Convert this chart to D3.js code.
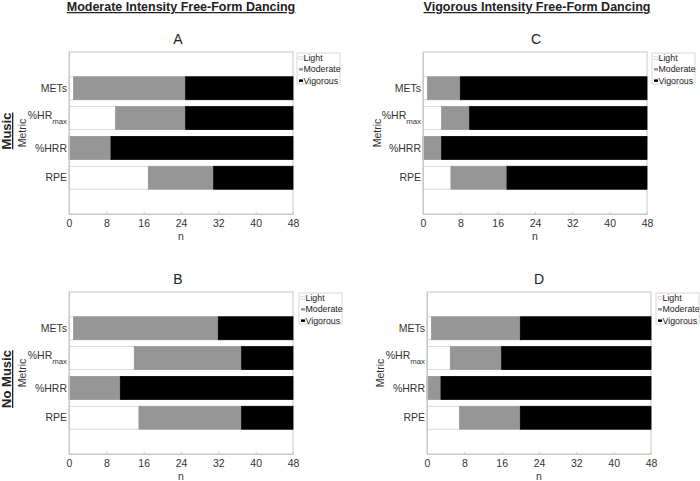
<!DOCTYPE html>
<html lang="en"><head>
<meta charset="utf-8"/>
<title>Free-Form Dancing intensity</title>
<script src="https://d3js.org/d3.v7.min.js"></script>
<style>
  body { margin: 0; padding: 0; background: #fff; width: 700px; height: 481px; overflow: hidden; }
  svg { font-family: 'Liberation Sans', Arial, sans-serif; }
</style>
</head>
<body>
<div id="chart"></div>
<script>
// categories
const metrics = ["METs", "%HRmax", "%HRR", "RPE"];
const levels = ["Light", "Moderate", "Vigorous"];
const xTicks = [0, 8, 16, 24, 32, 40, 48];

// counts (n) per metric: A = moderate dance + music
const lightA = [1, 10, 0, 17];
const moderateA = [24, 15, 9, 14];
const vigorousA = [23, 23, 39, 17];
// B = moderate dance, no music
const lightB = [1, 14, 0, 15];
const moderateB = [31, 23, 11, 22];
const vigorousB = [16, 11, 37, 11];
// C = vigorous dance + music
const lightC = [1, 4, 0, 6];
const moderateC = [7, 6, 4, 12];
const vigorousC = [40, 38, 44, 30];
// D = vigorous dance, no music
const lightD = [1, 5, 0, 7];
const moderateD = [19, 11, 3, 13];
const vigorousD = [28, 32, 45, 28];

const colors = { Light: "#ffffff", Moderate: "#969696", Vigorous: "#000000" };
const textCol = "#333";
const axisCol = "#c8c8c8";

const svg = d3.select("#chart").append("svg")
    .attr("width", 700).attr("height", 481);

// panel layout
const panels = [
    { id: "A", l: lightA, m: moderateA, v: vigorousA, x0: 69, x1: 293, y0: 52, y1: 214, tx: 178, metricX: 24, legX: 297 },
    { id: "C", l: lightC, m: moderateC, v: vigorousC, x0: 423, x1: 647, y0: 52, y1: 214, tx: 536, metricX: 379, legX: 652 },
    { id: "B", l: lightB, m: moderateB, v: vigorousB, x0: 69, x1: 293, y0: 292, y1: 454, tx: 178, metricX: 24, legX: 299 },
    { id: "D", l: lightD, m: moderateD, v: vigorousD, x0: 427, x1: 651, y0: 292, y1: 454, tx: 539, metricX: 382, legX: 656 }
];

panels.forEach(p => {
    const g = svg.append("g");
    const x = d3.scaleLinear().domain([0, 48]).range([p.x0, p.x1]);
    const y = d3.scaleBand().domain(metrics).range([p.y0, p.y1])
        .paddingInner(0.23).paddingOuter(0.83);

    // stacked data
    const rows = metrics.map((k, i) => ({ metric: k, Light: p.l[i], Moderate: p.m[i], Vigorous: p.v[i] }));
    const stacked = d3.stack().keys(levels)(rows);

    // box
    g.append("rect")
        .attr("x", p.x0).attr("y", p.y0)
        .attr("width", p.x1 - p.x0).attr("height", p.y1 - p.y0)
        .attr("fill", "none").attr("stroke", axisCol);

    stacked.forEach(s => {
        g.selectAll(null).data(s).enter().append("rect")
            .attr("x", d => x(d[0]))
            .attr("y", d => y(d.data.metric))
            .attr("width", d => x(d[1]) - x(d[0]))
            .attr("height", y.bandwidth())
            .attr("fill", colors[s.key])
            .attr("stroke", s.key === "Light" ? "#d0d0d0" : colors[s.key])
            .attr("stroke-width", 0.8);
    });

    // x axis
    const xa = g.append("g")
        .attr("transform", `translate(0,${p.y1})`)
        .call(d3.axisBottom(x).tickValues(xTicks).tickSizeInner(-2).tickSizeOuter(0).tickPadding(6));
    xa.select(".domain").attr("stroke", axisCol);
    xa.selectAll(".tick line").attr("stroke", axisCol);
    xa.selectAll("text").attr("fill", textCol).style("font-size", "10.5px");

    // y axis
    const ya = g.append("g")
        .attr("transform", `translate(${p.x0},0)`)
        .call(d3.axisLeft(y).tickSize(0).tickPadding(3).tickFormat(""));
    ya.select(".domain").attr("stroke", axisCol);
    ya.selectAll(".tick").each(function(d) {
        const t = d3.select(this).append("text")
            .attr("x", -2).attr("dy", "0.35em")
            .attr("text-anchor", "end")
            .attr("fill", textCol).style("font-size", "10.5px");
        if (d === "%HRmax") {
            t.attr("dy", "0.1em");
            t.append("tspan").text("%HR");
            t.append("tspan").attr("dy", "5px").style("font-size", "7.8px").text("max");
        } else {
            t.text(d);
        }
    });

    // labels
    g.append("text")
        .attr("x", p.tx).attr("y", p.y0 - 8)
        .attr("text-anchor", "middle").attr("fill", "#222")
        .style("font-size", "14px").text(p.id);
    g.append("text")
        .attr("x", (p.x0 + p.x1) / 2).attr("y", p.y1 + 26)
        .attr("text-anchor", "middle").attr("fill", textCol)
        .style("font-size", "10.5px").text("n");
    g.append("text")
        .attr("transform", `translate(${p.metricX + 2},${(p.y0 + p.y1) / 2}) rotate(-90)`)
        .attr("text-anchor", "middle").attr("fill", textCol)
        .style("font-size", "10.5px").text("Metric");

    // legend
    const lg = g.append("g").attr("transform", `translate(${p.legX},${p.y0 + 1})`);
    lg.append("rect").attr("width", 43).attr("height", 31)
        .attr("fill", "#fff").attr("stroke", "#d8d8d8");
    levels.forEach((k, i) => {
        lg.append("rect")
            .attr("x", 2).attr("y", 3.8 + i * 11.3)
            .attr("width", 4).attr("height", 2.5)
            .attr("fill", colors[k])
            .attr("stroke", k === "Light" ? "#bbb" : "none").attr("stroke-width", 0.5);
        lg.append("text")
            .attr("x", 6.5).attr("y", 5 + i * 11.3).attr("dy", "0.35em")
            .attr("fill", "#222").style("font-size", "8.8px").text(k);
    });
});

// column titles
[["Moderate Intensity Free-Form Dancing", 181], ["Vigorous Intensity Free-Form Dancing", 537]].forEach(([t, cx]) => {
    svg.append("text")
        .attr("x", cx).attr("y", 11)
        .attr("text-anchor", "middle").attr("fill", "#222")
        .style("font-size", "12.5px").style("font-weight", "bold")
        .style("text-decoration", "underline").text(t);
});

// row titles
[["Music", 131], ["No Music", 379]].forEach(([t, cy]) => {
    svg.append("text")
        .attr("transform", `translate(11,${cy}) rotate(-90)`)
        .attr("text-anchor", "middle").attr("fill", "#222")
        .style("font-size", "13px").style("font-weight", "bold")
        .style("text-decoration", "underline").text(t);
});
</script>
</body></html>
